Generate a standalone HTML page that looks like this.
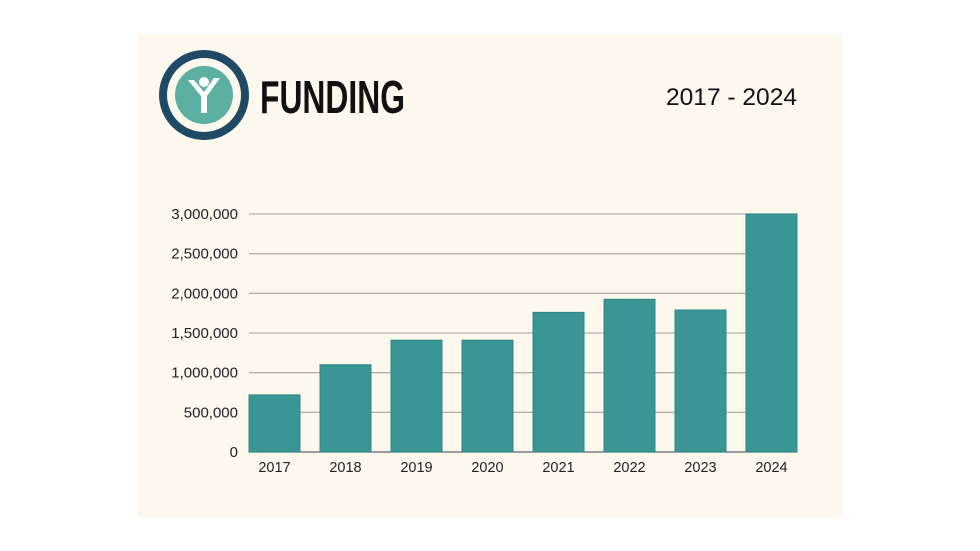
<!DOCTYPE html>
<html><head><meta charset="utf-8"><style>
body{margin:0;background:#fff;width:980px;height:551px;overflow:hidden;font-family:"Liberation Sans",sans-serif}
#card{position:absolute;left:138px;top:34px;width:704px;height:483px;background:#fcf8ee}
</style></head><body>
<div id="card"></div>
<svg id="s" width="980" height="551" style="position:absolute;left:0;top:0">
<g>
<circle cx="204" cy="95" r="45" fill="#1f4a66"/>
<circle cx="204" cy="95" r="37" fill="#fcf8ee"/>
<circle cx="204" cy="95" r="29" fill="#5bb0a2"/>
<path d="M188 80 L201 96 L201 113 L207 113 L207 96 L220 78 L214 78 L204 92 L194 80Z" fill="#fff"/>
<circle cx="204" cy="82" r="5" fill="#fff"/>
</g>
<text x="260" y="113" font-size="46" font-weight="bold" font-family="'Liberation Sans Narrow','Liberation Sans',sans-serif" textLength="145" lengthAdjust="spacingAndGlyphs" fill="#111">FUNDING</text>
<text x="797" y="105" font-size="24" text-anchor="end" fill="#111" textLength="131" lengthAdjust="spacingAndGlyphs">2017 - 2024</text>
<g id="plot"></g>
</svg>
<script>
const categories=["2017","2018","2019","2020","2021","2022","2023","2024"];
const funding=[720000,1100000,1410000,1410000,1760000,1925000,1790000,3000000];
const ticks=[0,500000,1000000,1500000,2000000,2500000,3000000];
const tickLabels=["0","500,000","1,000,000","1,500,000","2,000,000","2,500,000","3,000,000"];
const NS="http://www.w3.org/2000/svg";
const g=document.getElementById('plot');
const y=v=>452-v/3000000*238;
const x=i=>249+i*71;
function mk(t,a){const e=document.createElementNS(NS,t);for(const k in a)e.setAttribute(k,a[k]);g.appendChild(e);return e;}
ticks.forEach((t,i)=>{
 const l=mk('line',{x1:249,x2:797,y1:y(t),y2:y(t),stroke:i?'#b5b2aa':'#666','stroke-width':1.3});
 
 
 const tx=mk('text',{x:238,y:y(t)+5,'text-anchor':'end','font-size':15,fill:'#222'});
 tx.textContent=tickLabels[i];
 
 
});
categories.forEach((c,i)=>{
 const r=mk('rect',{x:x(i),y:y(funding[i]),width:51,height:452-y(funding[i]),fill:'#399694',stroke:'#2f8785','stroke-width':1});
 
 
 const tx=mk('text',{x:x(i)+25.5,y:472,'text-anchor':'middle','font-size':14.5,fill:'#222'});
 tx.textContent=c;
 
 
});
</script>
</body></html>
